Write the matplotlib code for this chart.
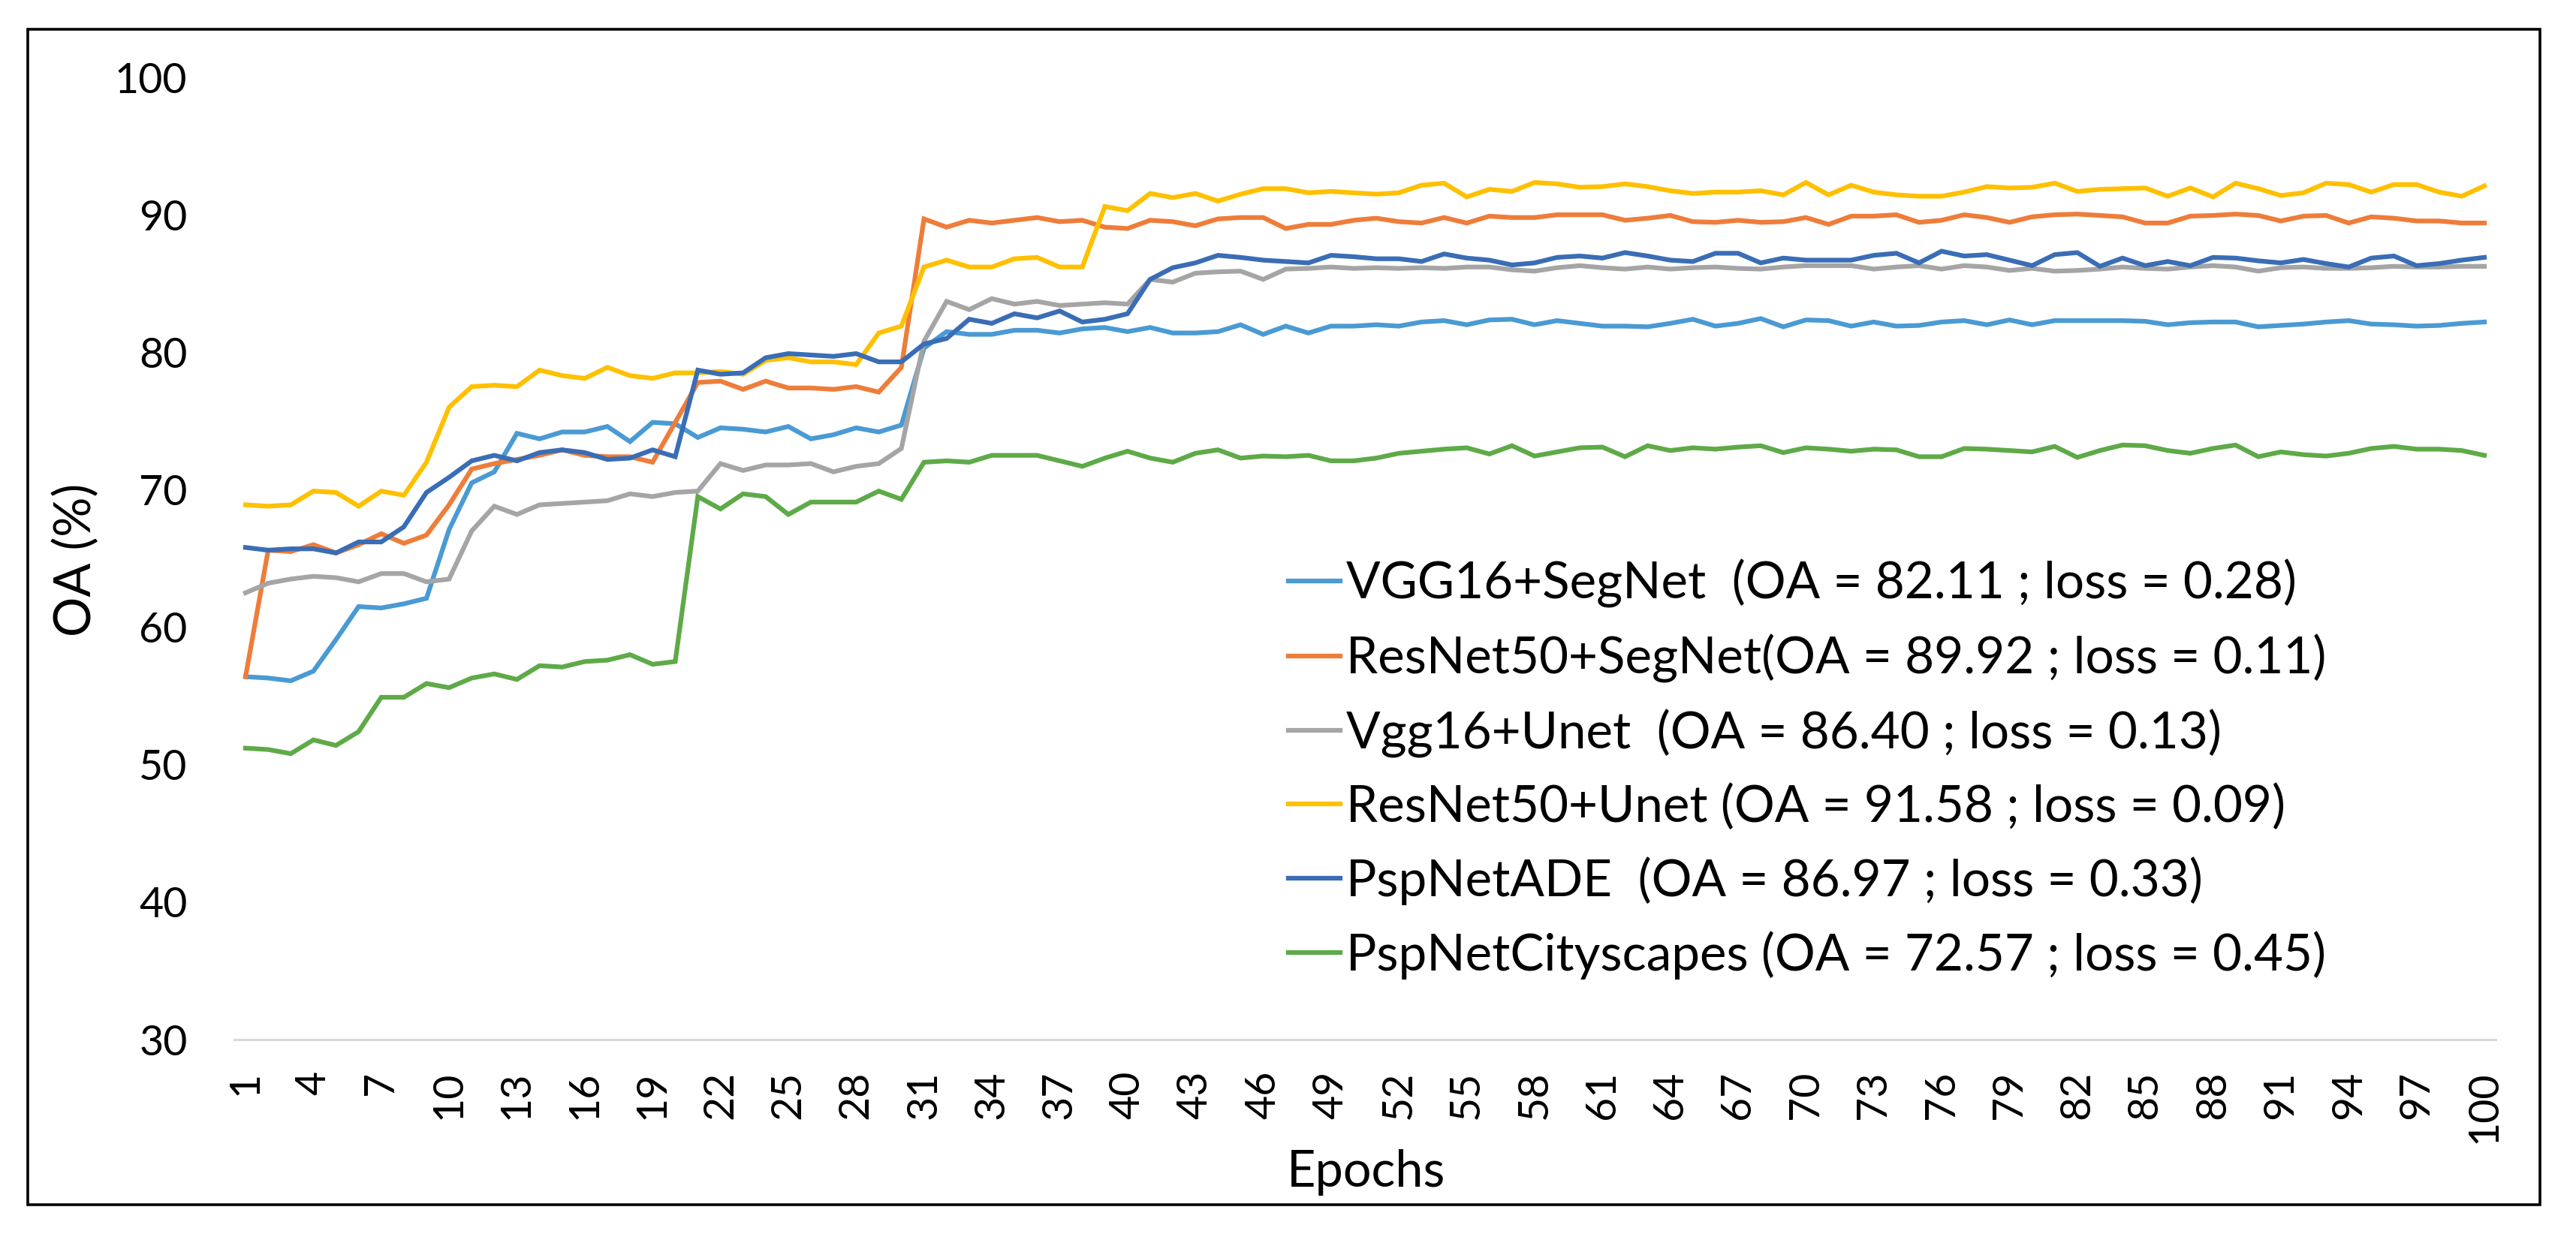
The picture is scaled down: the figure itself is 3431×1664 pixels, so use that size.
import numpy as np
import matplotlib
matplotlib.use("Agg")
import matplotlib.pyplot as plt
from matplotlib.patches import Rectangle

plt.rcParams['font.family'] = ['Lato', 'DejaVu Sans']

epochs = list(range(1, 101))
xtick_labels = [str(e) for e in range(1, 101, 3)]

vgg16_segnet = [
    56.4, 56.3, 56.1, 56.8, 59.1, 61.5, 61.4, 61.7, 62.1, 67.1,
    70.5, 71.3, 74.1, 73.7, 74.2, 74.2, 74.6, 73.5, 74.9, 74.8,
    73.8, 74.5, 74.4, 74.2, 74.6, 73.7, 74.0, 74.5, 74.2, 74.7,
    80.3, 81.5, 81.3, 81.3, 81.6, 81.6, 81.4, 81.7, 81.8, 81.5,
    81.8, 81.4, 81.4, 81.5, 82.0, 81.3, 81.9, 81.4, 81.9, 81.9,
    82.0, 81.9, 82.2, 82.3, 82.0, 82.35, 82.4, 82.0, 82.3, 82.1,
    81.9, 81.9, 81.85, 82.1, 82.4, 81.9, 82.1, 82.45, 81.85, 82.35,
    82.3, 81.9, 82.2, 81.9, 81.95, 82.2, 82.3, 82.0, 82.35, 82.0,
    82.3, 82.3, 82.3, 82.3, 82.25, 82.0, 82.15, 82.2, 82.2, 81.85,
    81.95, 82.05, 82.2, 82.3, 82.05, 82.0, 81.9, 81.95, 82.1, 82.2,
]

resnet50_segnet = [
    56.4, 65.6, 65.5, 66.0, 65.4, 66.0, 66.8, 66.1, 66.7, 68.9,
    71.5, 71.9, 72.2, 72.5, 72.9, 72.5, 72.4, 72.4, 72.0, 74.9,
    77.8, 77.9, 77.3, 77.9, 77.4, 77.4, 77.3, 77.5, 77.1, 78.9,
    89.7, 89.1, 89.6, 89.4, 89.6, 89.8, 89.5, 89.6, 89.1, 89.0,
    89.6, 89.5, 89.2, 89.7, 89.8, 89.8, 89.0, 89.3, 89.3, 89.6,
    89.75, 89.5, 89.4, 89.8, 89.4, 89.9, 89.8, 89.8, 90.0, 90.0,
    90.0, 89.6, 89.75, 89.95, 89.5, 89.45, 89.6, 89.45, 89.5, 89.8,
    89.3, 89.9, 89.9, 90.0, 89.45, 89.6, 90.0, 89.8, 89.45, 89.85,
    90.0, 90.05, 89.95, 89.85, 89.4, 89.4, 89.9, 89.95, 90.05, 89.95,
    89.55, 89.9, 89.95, 89.4, 89.85, 89.75, 89.55, 89.55, 89.4, 89.4,
]

vgg16_unet = [
    62.5, 63.2, 63.5, 63.7, 63.6, 63.3, 63.9, 63.9, 63.3, 63.5,
    67.0, 68.8, 68.2, 68.9, 69.0, 69.1, 69.2, 69.7, 69.5, 69.8,
    69.9, 71.9, 71.4, 71.8, 71.8, 71.9, 71.3, 71.7, 71.9, 73.0,
    80.8, 83.7, 83.1, 83.9, 83.5, 83.7, 83.4, 83.5, 83.6, 83.5,
    85.3, 85.1, 85.75, 85.85, 85.9, 85.3, 86.05, 86.1, 86.2, 86.1,
    86.15, 86.1, 86.15, 86.1, 86.2, 86.2, 86.0, 85.9, 86.15, 86.3,
    86.15, 86.05, 86.2, 86.05, 86.15, 86.2, 86.1, 86.05, 86.2, 86.3,
    86.3, 86.3, 86.05, 86.2, 86.3, 86.05, 86.3, 86.2, 85.95, 86.1,
    85.9, 85.95, 86.05, 86.2, 86.1, 86.05, 86.2, 86.3, 86.2, 85.9,
    86.15, 86.2, 86.1, 86.1, 86.15, 86.25, 86.2, 86.2, 86.25, 86.25,
]

resnet50_unet = [
    68.9, 68.8, 68.9, 69.9, 69.8, 68.8, 69.9, 69.6, 72.0, 76.0,
    77.5, 77.6, 77.5, 78.7, 78.3, 78.1, 78.9, 78.3, 78.1, 78.5,
    78.5, 78.6, 78.4, 79.4, 79.6, 79.3, 79.3, 79.1, 81.4, 81.9,
    86.2, 86.7, 86.2, 86.2, 86.8, 86.9, 86.2, 86.2, 90.6, 90.3,
    91.55, 91.25, 91.55, 91.0, 91.5, 91.9, 91.9, 91.6, 91.7, 91.6,
    91.5, 91.6, 92.15, 92.3, 91.3, 91.85, 91.7, 92.35, 92.25, 92.0,
    92.05, 92.25, 92.05, 91.75, 91.55, 91.65, 91.65, 91.75, 91.45, 92.35,
    91.45, 92.15, 91.65, 91.45, 91.35, 91.35, 91.65, 92.05, 91.95, 92.0,
    92.3, 91.7, 91.85, 91.9, 91.95, 91.35, 91.95, 91.3, 92.3, 91.9,
    91.4, 91.6, 92.3, 92.2, 91.65, 92.2, 92.2, 91.65, 91.35, 92.1,
]

pspnet_ade = [
    65.8, 65.6, 65.7, 65.7, 65.4, 66.2, 66.2, 67.3, 69.8, 70.9,
    72.1, 72.5, 72.1, 72.7, 72.9, 72.7, 72.2, 72.3, 72.9, 72.4,
    78.7, 78.4, 78.5, 79.6, 79.9, 79.8, 79.7, 79.9, 79.3, 79.3,
    80.6, 81.0, 82.4, 82.1, 82.8, 82.5, 83.0, 82.2, 82.4, 82.8,
    85.3, 86.15, 86.5, 87.05, 86.9, 86.7, 86.6, 86.5, 87.05, 86.95,
    86.8, 86.8, 86.6, 87.15, 86.85, 86.7, 86.35, 86.5, 86.9, 87.0,
    86.85, 87.25, 87.0, 86.7, 86.6, 87.2, 87.2, 86.5, 86.85, 86.7,
    86.7, 86.7, 87.05, 87.2, 86.5, 87.35, 87.0, 87.1, 86.7, 86.3,
    87.1, 87.25, 86.25, 86.85, 86.3, 86.6, 86.3, 86.9, 86.85, 86.65,
    86.5, 86.75, 86.45, 86.2, 86.85, 87.0, 86.3, 86.45, 86.7, 86.9,
]

pspnet_cityscapes = [
    51.2, 51.1, 50.8, 51.8, 51.4, 52.4, 54.9, 54.9, 55.9, 55.6,
    56.3, 56.6, 56.2, 57.2, 57.1, 57.5, 57.6, 58.0, 57.3, 57.5,
    69.5, 68.6, 69.7, 69.5, 68.2, 69.1, 69.1, 69.1, 69.9, 69.3,
    72.0, 72.1, 72.0, 72.5, 72.5, 72.5, 72.1, 71.7, 72.3, 72.8,
    72.3, 72.0, 72.65, 72.9, 72.3, 72.45, 72.4, 72.5, 72.1, 72.1,
    72.3, 72.65, 72.8, 72.95, 73.05, 72.6, 73.2, 72.45, 72.75, 73.05,
    73.1, 72.4, 73.2, 72.85, 73.05, 72.95, 73.1, 73.2, 72.7, 73.05,
    72.95, 72.8, 72.95, 72.9, 72.4, 72.4, 73.0, 72.95, 72.85, 72.75,
    73.15, 72.35, 72.85, 73.25, 73.2, 72.85, 72.65, 73.0, 73.25, 72.4,
    72.75, 72.55, 72.45, 72.65, 73.0, 73.15, 72.95, 72.95, 72.85, 72.5,
]

series_labels = [
    "VGG16+SegNet  (OA = 82.11 ; loss = 0.28)",
    "ResNet50+SegNet(OA = 89.92 ; loss = 0.11)",
    "Vgg16+Unet  (OA = 86.40 ; loss = 0.13)",
    "ResNet50+Unet (OA = 91.58 ; loss = 0.09)",
    "PspNetADE  (OA = 86.97 ; loss = 0.33)",
    "PspNetCityscapes (OA = 72.57 ; loss = 0.45)",
]
series_values = [vgg16_segnet, resnet50_segnet, vgg16_unet,
                 resnet50_unet, pspnet_ade, pspnet_cityscapes]
colors = ['#4A9AD3', '#EE7D3A', '#A5A5A5', '#FFC000', '#3A6DB5', '#5EAA48']

W, H = 3431, 1664
fig = plt.figure(figsize=(W / 100, H / 100), dpi=100)
ax = fig.add_axes([312 / W, 1 - 1385 / H, 3012 / W, 1282 / H])

for vals, lab, col in zip(series_values, series_labels, colors):
    ax.plot(epochs, vals, color=col, lw=4.5, label=lab, solid_joinstyle='miter')

ax.set_xlim(0.5, 100.5)
ax.set_ylim(30, 100)
ax.set_yticks(range(30, 101, 10))
ax.set_xticks(list(range(1, 101, 3)))
ax.set_xticklabels(xtick_labels, rotation=90)
ax.tick_params(axis='y', length=0, pad=45, labelsize=40)
ax.tick_params(axis='x', length=0, pad=30, labelsize=40)
for s in ['top', 'left', 'right']:
    ax.spines[s].set_visible(False)
ax.spines['bottom'].set_color('#D9D9D9')
ax.spines['bottom'].set_linewidth(2.2)

leg = ax.legend(loc='upper left', bbox_to_anchor=(1716 / W, 1 - 745 / H),
                bbox_transform=fig.transFigure, frameon=False,
                fontsize=48.5, handlelength=1.02, handletextpad=0.12,
                labelspacing=0.51, borderpad=0, borderaxespad=0)

fig.text(1820 / W, 1 - 1562 / H, "Epochs", ha='center', va='center', fontsize=48)
fig.text(102 / W, 1 - 746 / H, "OA (%)", ha='center', va='center',
         rotation=90, fontsize=48)

fig.patches.append(Rectangle((37 / W, 1 - 1605 / H), (3383 - 37) / W,
                             (1605 - 39) / H, transform=fig.transFigure,
                             fill=False, edgecolor='black', lw=2.6))

fig.savefig("out.png", dpi=100, facecolor='white')
